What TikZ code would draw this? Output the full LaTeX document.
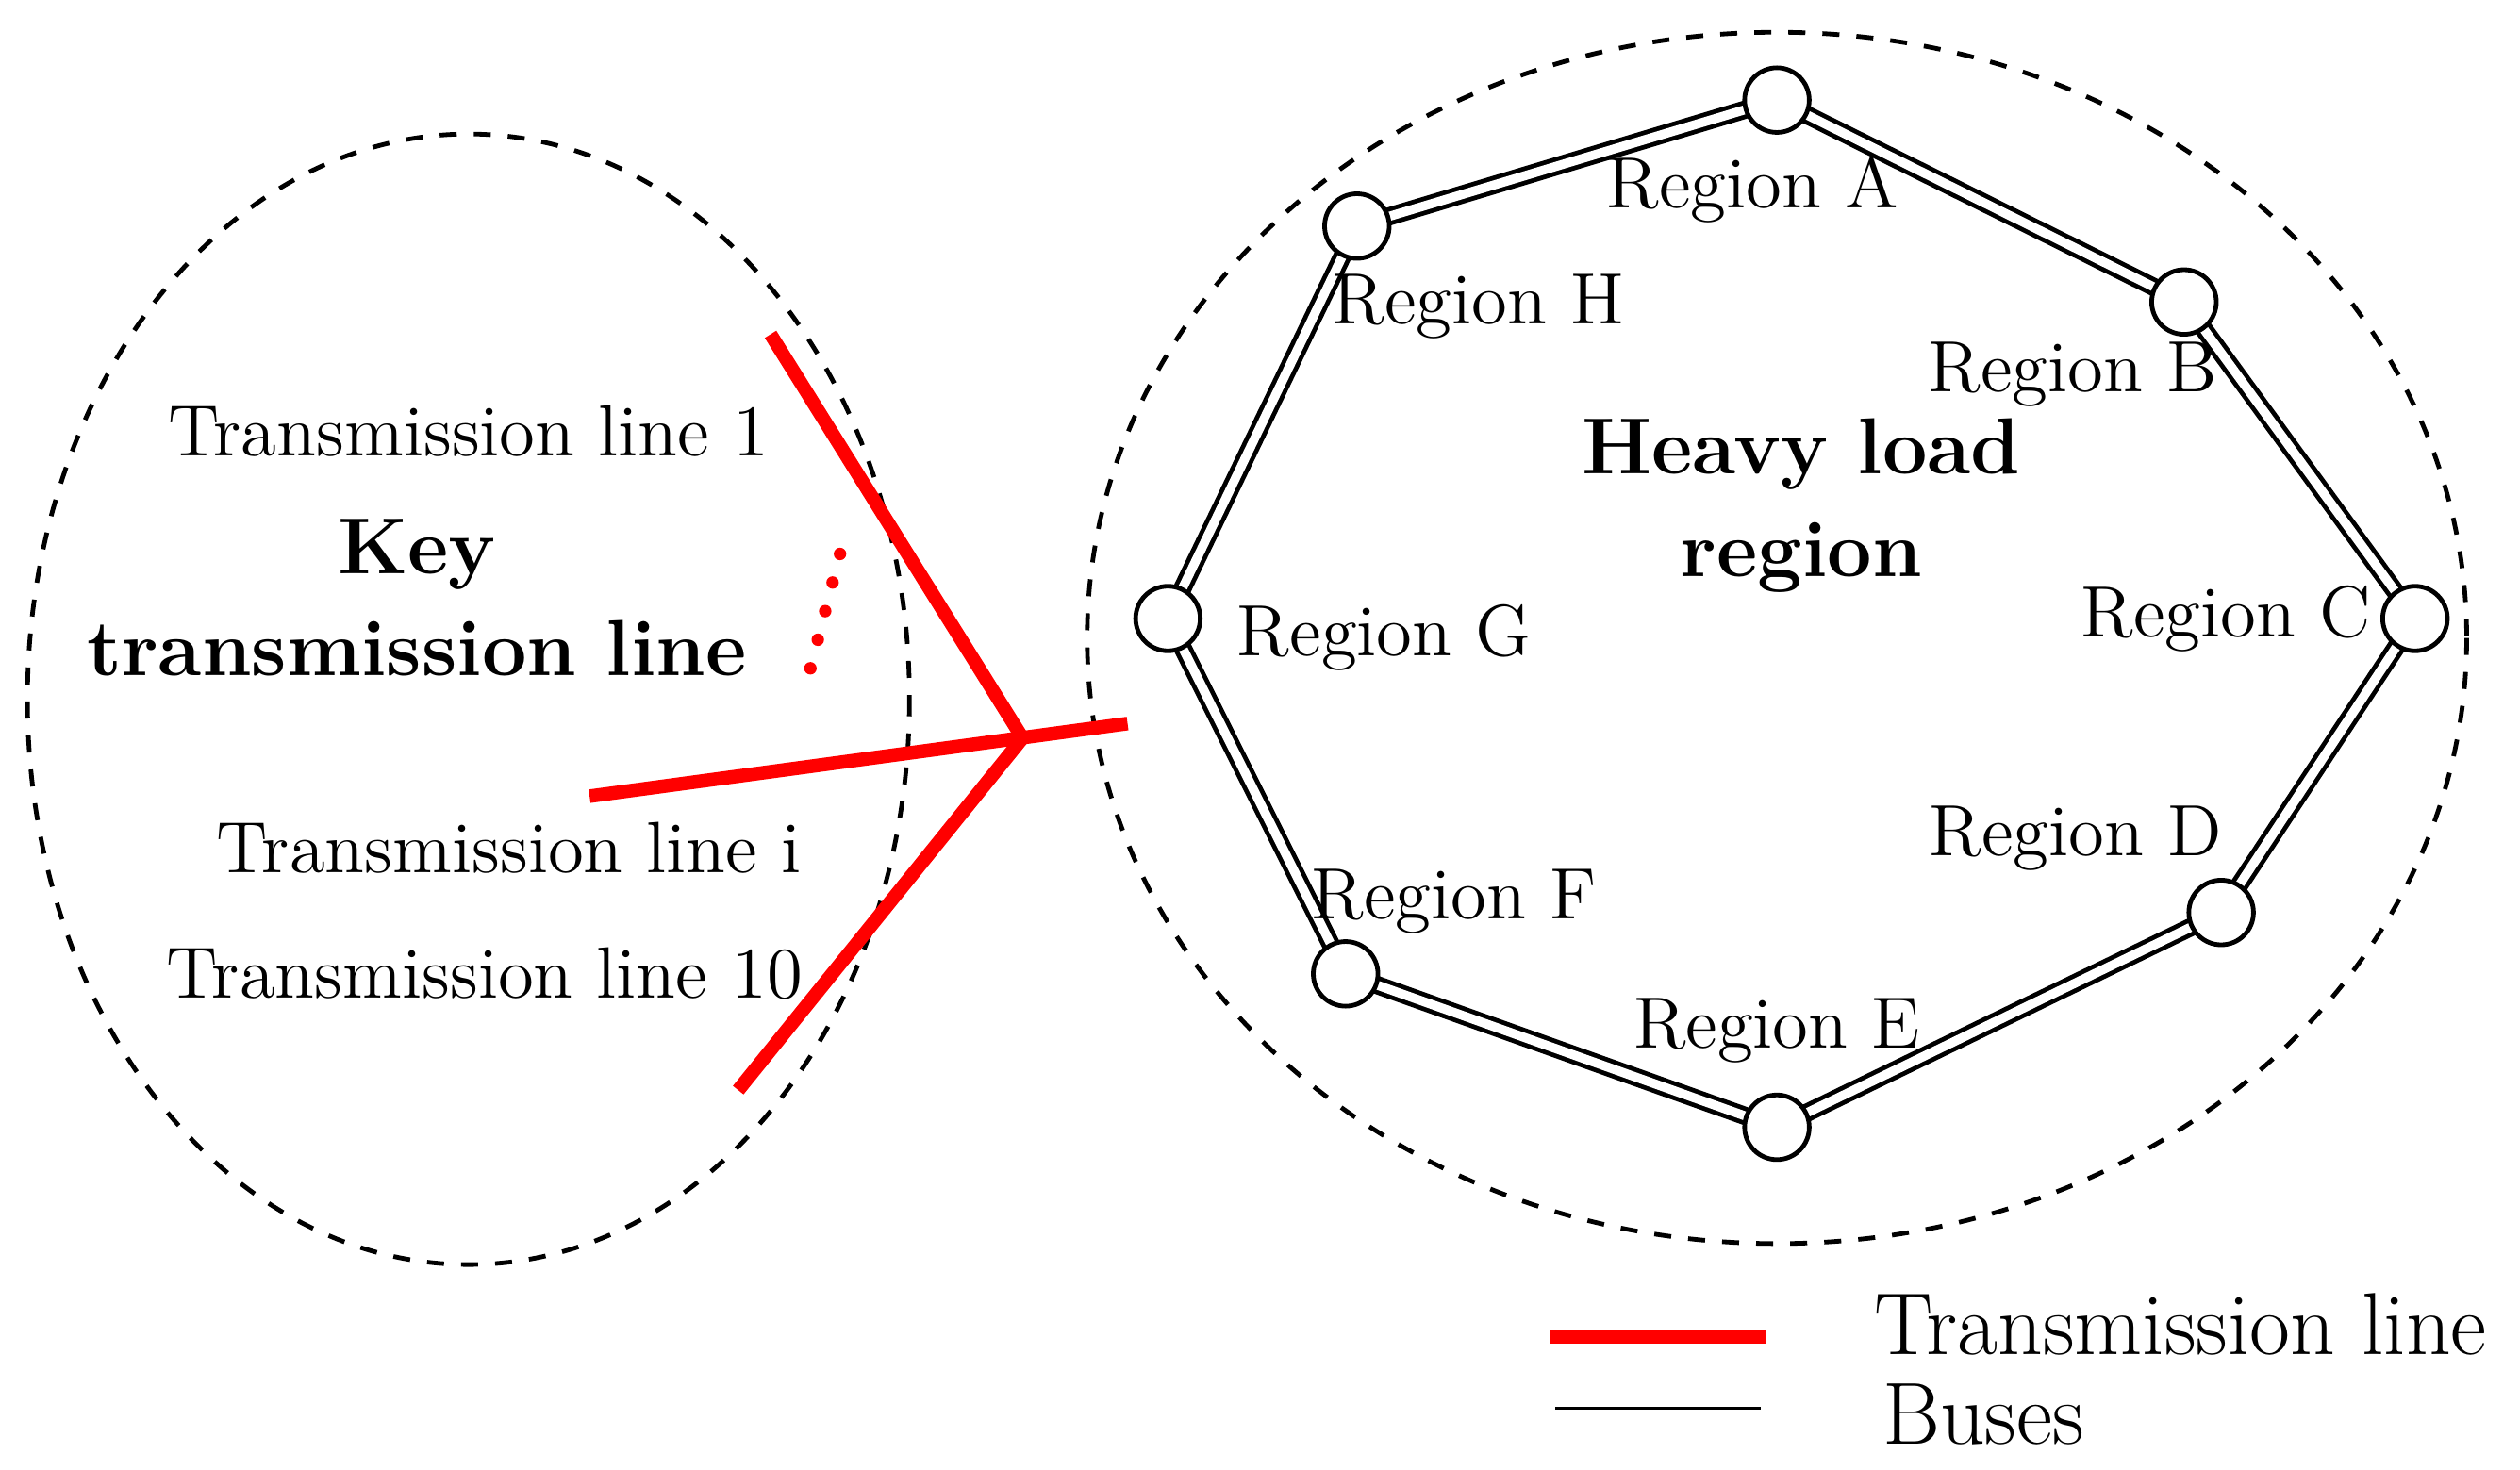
\documentclass[tikz,border=0pt]{standalone}
\usepackage{tikz}
\usetikzlibrary{positioning}
\begin{document}
\begin{tikzpicture}[x=0.01cm,y=-0.01cm,
		bus/.style={circle,draw=black,fill=white,thick,inner sep=0mm,minimum size=4mm},
		lbl/.style={font=\fontsize{12.8}{15}\selectfont},
		big/.style={font=\fontsize{14}{18}\selectfont\bfseries,align=center},
		tline/.style={red,line width=2.4pt},
		double bus/.style={draw=black,double=white,double distance=1.6pt,thick}]
	\useasboundingbox (0,0) rectangle (1560,910);

	% the two areas
	\draw[dashed,thick] (290,433) ellipse (273 and 350);
	\draw[dashed,thick] (1100,395) ellipse (427 and 375);

	% buses of the heavy load region
	\coordinate (a) at (1100,62);
	\coordinate (b) at (1352,187);
	\coordinate (c) at (1495,383);
	\coordinate (d) at (1375,565);
	\coordinate (e) at (1100,698);
	\coordinate (f) at (833,603);
	\coordinate (g) at (723,383);
	\coordinate (h) at (840,140);
	\draw[double bus] (a) -- (b) -- (c) -- (d) -- (e) -- (f) -- (g) -- (h) -- cycle;
	\foreach \n in {a,b,c,d,e,f,g,h}
		\node[bus] (bus\n) at (\n) {};

	\node[lbl] (labA) at (1085,117) {Region A};
	\node[lbl] (labB) at (1283,232) {Region B};
	\node[lbl] (labC) at (1378,383) {Region C};
	\node[lbl] (labD) at (1285,519) {Region D};
	\node[lbl] (labE) at (1100,638) {Region E};
	\node[lbl] (labF) at (900,558) {Region F};
	\node[lbl] (labG) at (857,395) {Region G};
	\node[lbl] (labH) at (915,190) {Region H};
	\node[big] (heavy) at (1115,313) {Heavy load\\region};

	% key transmission lines
	\coordinate (junction) at (633,457);
	\coordinate (end1) at (477,207);
	\coordinate (endi) at (365,493);
	\coordinate (endr) at (698,448);
	\coordinate (end10) at (457,675);
	\draw[tline] (end1) -- (junction);
	\draw[tline] (endi) -- (endr);
	\draw[tline] (end10) -- (junction);
	\draw[red,line width=2.2pt,line cap=round,dash pattern=on 0pt off 5.2pt] (520,343) -- (498,428);

	\node[lbl] (tl1) at (290,267) {Transmission line 1};
	\node[lbl] (tli) at (315,525) {Transmission line i};
	\node[lbl] (tl10) at (300,603) {Transmission line 10};
	\node[big] (key) at (258,370) {Key\\transmission line};

	% legend
	\coordinate (lr1) at (960,828);
	\coordinate (lr2) at (1093,828);
	\coordinate (lb1) at (963,872);
	\coordinate (lb2) at (1090,872);
	\draw[tline] (lr1) -- (lr2);
	\draw[thin] (lb1) -- (lb2);
	\node[lbl,font=\fontsize{15.5}{18}\selectfont,anchor=west] (legtl) at (1148,820) {Transmission line};
	\node[lbl,font=\fontsize{15.5}{18}\selectfont,anchor=west] (legbus) at (1153,876) {Buses};
\end{tikzpicture}
\end{document}
